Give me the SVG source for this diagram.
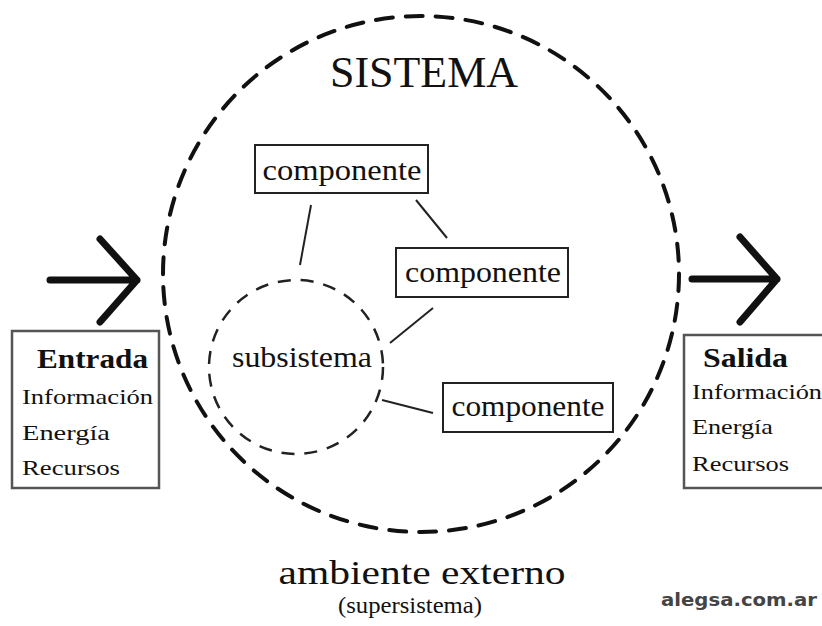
<svg xmlns="http://www.w3.org/2000/svg" width="822" height="626" viewBox="0 0 822 626">
<style>
.serif{font-family:"Liberation Serif","Times New Roman",serif;fill:#111}
.box{fill:none;stroke:#222;stroke-width:2}
.io{fill:none;stroke:#555;stroke-width:2.5}
.link{stroke:#222;stroke-width:2;fill:none}
.arrow{stroke:#111;stroke-width:7;fill:none;stroke-linecap:round;stroke-linejoin:round}
</style>
<rect width="822" height="626" fill="#fff"/>
<g id="sistema">
<circle cx="421" cy="274" r="258" fill="none" stroke="#111" stroke-width="4" stroke-dasharray="17 13" stroke-linecap="round"/>
<text class="serif" x="424" y="87" font-size="44" text-anchor="middle" textLength="188" lengthAdjust="spacingAndGlyphs">SISTEMA</text>
</g>
<g id="connectors">
<line class="link" x1="311" y1="205" x2="300" y2="265"/>
<line class="link" x1="416" y1="200" x2="447" y2="238"/>
<line class="link" x1="433" y1="308" x2="390" y2="343"/>
<line class="link" x1="382" y1="400" x2="433" y2="413"/>
</g>
<g id="subsistema">
<circle cx="296" cy="367" r="87" fill="none" stroke="#222" stroke-width="2.5" stroke-dasharray="13 10"/>
<text class="serif" x="302" y="367" font-size="30" text-anchor="middle" textLength="140" lengthAdjust="spacingAndGlyphs">subsistema</text>
</g>
<g id="componente1">
<rect class="box" x="255" y="145" width="173" height="48"/>
<text class="serif" x="342" y="180" font-size="30" text-anchor="middle" textLength="159" lengthAdjust="spacingAndGlyphs">componente</text>
</g>
<g id="componente2">
<rect class="box" x="396" y="248" width="172" height="49"/>
<text class="serif" x="483" y="282" font-size="30" text-anchor="middle" textLength="156" lengthAdjust="spacingAndGlyphs">componente</text>
</g>
<g id="componente3">
<rect class="box" x="443" y="383" width="170" height="49"/>
<text class="serif" x="528" y="416" font-size="30" text-anchor="middle" textLength="153" lengthAdjust="spacingAndGlyphs">componente</text>
</g>
<g id="flecha-entrada">
<path class="arrow" d="M50 280 H137 M100 239 L137 280 L100 322"/>
</g>
<g id="flecha-salida">
<path class="arrow" d="M692 279 H777 M740 237 L777 279 L740 322"/>
</g>
<g id="entrada">
<rect class="io" x="12" y="331" width="147" height="157"/>
<text class="serif" x="37" y="368" font-size="28" font-weight="bold" textLength="111" lengthAdjust="spacingAndGlyphs">Entrada</text>
<text class="serif" x="22" y="404" font-size="22" textLength="131" lengthAdjust="spacingAndGlyphs">Información</text>
<text class="serif" x="22" y="440" font-size="22" textLength="88" lengthAdjust="spacingAndGlyphs">Energía</text>
<text class="serif" x="22" y="475" font-size="22" textLength="98" lengthAdjust="spacingAndGlyphs">Recursos</text>
</g>
<g id="salida">
<rect class="io" x="684" y="335" width="150" height="153"/>
<text class="serif" x="703" y="367" font-size="28" font-weight="bold" textLength="85" lengthAdjust="spacingAndGlyphs">Salida</text>
<text class="serif" x="692" y="399" font-size="22" textLength="130" lengthAdjust="spacingAndGlyphs">Información</text>
<text class="serif" x="692" y="434" font-size="22" textLength="81" lengthAdjust="spacingAndGlyphs">Energía</text>
<text class="serif" x="692" y="471" font-size="22" textLength="97" lengthAdjust="spacingAndGlyphs">Recursos</text>
</g>
<g id="ambiente">
<text class="serif" x="422" y="584" font-size="34" text-anchor="middle" textLength="287" lengthAdjust="spacingAndGlyphs">ambiente externo</text>
<text class="serif" x="410" y="613" font-size="23" text-anchor="middle" textLength="144" lengthAdjust="spacingAndGlyphs">(supersistema)</text>
</g>
<text x="739" y="606" font-family="DejaVu Sans, sans-serif" font-size="17" font-weight="bold" fill="#444" text-anchor="middle" textLength="156" lengthAdjust="spacingAndGlyphs">alegsa.com.ar</text>
</svg>
